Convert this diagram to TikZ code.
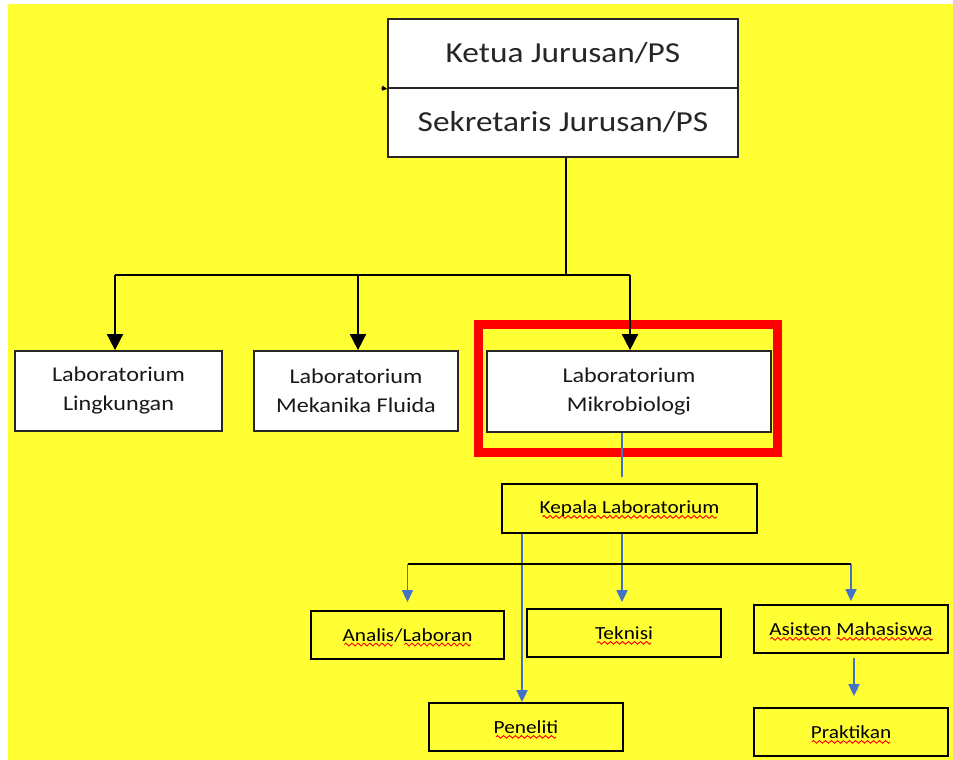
\documentclass[tikz,border=0pt]{standalone}
\usepackage{fontspec}
\setmainfont{Carlito}[FakeStretch=1.15]
\usepackage{xcolor}
\usetikzlibrary{arrows.meta}
\definecolor{bgyellow}{RGB}{255,255,51}
\definecolor{msblue}{RGB}{68,114,196}
\newsavebox\wavebox
\newcommand\spellmark[1]{\leavevmode\setbox0\hbox{#1}\rlap{\raisebox{-4.5pt}[0pt][0pt]{\hbox to\wd0{\cleaders\copy\wavebox\hfil}}}\box0\relax}
\tikzset{
  topbox/.style={draw=black!85, fill=white, line width=1.8pt, minimum width=350pt, minimum height=69pt, inner sep=0pt, font=\fontsize{29}{34}\selectfont, text=black!85},
  labbox/.style={draw=black!85, fill=white, line width=1.7pt, minimum height=80pt, inner sep=0pt, align=center, font=\fontsize{21}{29}\selectfont, text=black!90},
  subbox/.style={draw=black, line width=1.8pt, minimum width=194pt, minimum height=48pt, inner sep=0pt, font=\fontsize{18.5}{22}\selectfont},
  conn/.style={draw=black, line width=1.6pt},
  blkarrow/.style={conn, -{Triangle[length=16pt,width=16pt]}},
  bline/.style={draw=msblue, line width=1.8pt},
  barrow/.style={bline, -{Triangle[length=12pt,width=11pt]}},
  hilite/.style={draw=red, line width=9pt, minimum width=299pt, minimum height=128pt, inner sep=0pt}
}
\begin{document}
\sbox\wavebox{\begin{pgfpicture}%
\pgfsetlinewidth{0.9pt}\pgfsetstrokecolor{red}%
\pgfpathmoveto{\pgfpoint{0pt}{0pt}}%
\pgfpathsine{\pgfpoint{1.5pt}{1.4pt}}\pgfpathcosine{\pgfpoint{1.5pt}{-1.4pt}}%
\pgfpathsine{\pgfpoint{1.5pt}{-1.4pt}}\pgfpathcosine{\pgfpoint{1.5pt}{1.4pt}}%
\pgfusepath{stroke}%
\pgfresetboundingbox
\pgfpathrectangle{\pgfpoint{0pt}{-1pt}}{\pgfpoint{6pt}{2pt}}\pgfusepath{use as bounding box}%
\end{pgfpicture}}%
\begin{tikzpicture}[x=1pt,y=-1pt]
\useasboundingbox (0,0) rectangle (953,760);
\fill[bgyellow] (8,4) rectangle (953,760);

% top boxes
\node[topbox] (ketua) at (563,53.5) {Ketua Jurusan/PS};
\node[topbox] (sekre) at (563,122.5) {Sekretaris Jurusan/PS};
\coordinate (tick) at (381,88);
\draw[-{Triangle[length=5pt,width=5pt]}, line width=0.8pt] (tick) -- (ketua.south west);

% labs
\node[hilite] (hl) at (628,388.5) {};
\node[labbox, minimum width=207pt] (lab1) at (118.5,391) {Laboratorium\\Lingkungan};
\node[labbox, minimum width=204pt] (lab2) at (356,391) {Laboratorium\\Mekanika Fluida};
\node[labbox, minimum width=284pt, minimum height=81pt] (lab3) at (629,391.5) {Laboratorium\\Mikrobiologi};

\coordinate (j) at (566,275);
\draw[conn] (j |- sekre.south) -- (j);
\draw[conn] ([xshift=-3.5pt]lab1.north |- j) -- ([xshift=1pt]lab3.north |- j);
\draw[blkarrow] ([xshift=-3.5pt]lab1.north |- j) -- ([xshift=-3.5pt]lab1.north);
\draw[blkarrow] ([xshift=2pt]lab2.north |- j) -- ([xshift=2pt]lab2.north);
\draw[blkarrow] ([xshift=1pt]lab3.north |- j) -- ([xshift=1pt]lab3.north);

% lower structure
\node[subbox, minimum width=255pt, minimum height=49pt] (kepala) at (629.5,508.5) {\spellmark{Kepala Laboratorium}};
\node[subbox, minimum width=193pt] (analis) at (407.5,635) {\spellmark{Analis}/\spellmark{Laboran}};
\node[subbox] (teknisi) at (624,633) {\spellmark{Teknisi}};
\node[subbox] (peneliti) at (526,727) {\spellmark{Peneliti}};
\node[subbox] (asisten) at (851,629) {\spellmark{Asisten} \spellmark{Mahasiswa}};
\node[subbox] (praktikan) at (851,732) {\spellmark{Praktikan}};

\draw[bline] ([xshift=-7pt]lab3.south) -- ([xshift=-7.5pt,yshift=6pt]kepala.north);
\draw[barrow] ([xshift=-107.5pt]kepala.south) -- ([xshift=-107.5pt]kepala.south |- peneliti.north);
\draw[barrow, shorten >=6pt] ([xshift=-7.5pt]kepala.south) -- ([xshift=-7.5pt]kepala.south |- teknisi.north);

\coordinate (hy) at (0,564);
\draw[barrow, shorten >=8pt] (analis.north |- hy) -- (analis.north);
\draw[barrow, shorten >=3pt] (asisten.north |- hy) -- (asisten.north);
\draw[conn, line width=2.6pt] (analis.north |- hy) -- (asisten.north |- hy);
\draw[barrow, shorten <=4pt, shorten >=11pt] ([xshift=3pt]asisten.south) -- ([xshift=3pt]praktikan.north);
\end{tikzpicture}
\end{document}
